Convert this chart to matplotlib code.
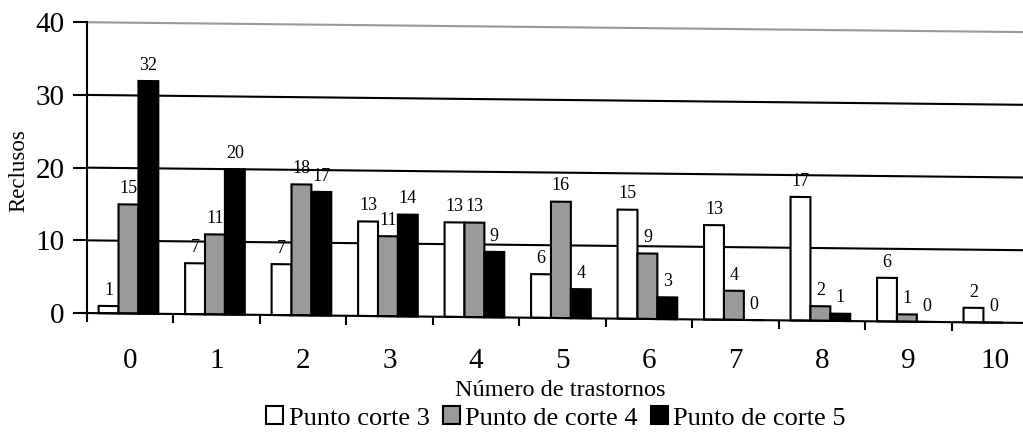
import numpy as np
import matplotlib
matplotlib.use("Agg")
import matplotlib.pyplot as plt
from matplotlib.transforms import Affine2D

plt.rcParams["font.family"] = ["Liberation Serif", "DejaVu Serif"]

# Data
categories = ["0", "1", "2", "3", "4", "5", "6", "7", "8", "9", "10"]
punto_corte_3 = [1, 7, 7, 13, 13, 6, 15, 13, 17, 6, 2]
punto_corte_4 = [15, 11, 18, 11, 13, 16, 9, 4, 2, 1, 0]
punto_corte_5 = [32, 20, 17, 14, 9, 4, 3, 0, 1, 0, None]

series = [
    ("Punto corte 3", punto_corte_3, "white"),
    ("Punto de corte 4", punto_corte_4, "#9a9a9a"),
    ("Punto de corte 5", punto_corte_5, "black"),
]

fig = plt.figure(figsize=(10.23, 4.36), dpi=100)
ax = fig.add_axes([0.085, 0.282, 0.930, 0.667])
ax.set_xlim(-0.5, 10.5)
ax.set_ylim(0, 40)

# the scanned chart is slightly tilted: plot area drops to the right
x0 = ax.transAxes.transform((0, 0))[0]
skew = Affine2D().translate(-x0, 0).skew(0, -np.arctan(10 / 950)).translate(x0, 0)
tr = ax.transData + skew

x = np.arange(len(categories))
w = 0.23
handles = []
for k, (name, vals, col) in enumerate(series):
    xs = [xi + (k - 1) * w - 0.02 for xi, v in zip(x, vals) if v is not None]
    hs = [v for v in vals if v is not None]
    bars = ax.bar(xs, hs, width=w, color=col, edgecolor="black", linewidth=1.5,
                  label=name, zorder=3)
    for b in bars:
        b.set_transform(tr)
        b.set_clip_on(False)
    handles.append(bars)
    for xi, v in zip(xs, hs):
        ax.text(xi, v + 1.0, str(v), ha="center", va="bottom", fontsize=13,
                transform=tr, clip_on=False)

# gridlines (tilted like the scan)
for yv in [10, 20, 30]:
    ax.plot([-0.5, 10.5], [yv, yv], color="black", lw=1.5, transform=tr, zorder=1)
ax.plot([-0.5, 10.5], [40, 40], color="#999999", lw=1.5, transform=tr, zorder=1,
        clip_on=False)
# baseline and category separators
ax.plot([-0.55, 10.5], [0, 0], color="black", lw=1.5, transform=tr, zorder=4,
        clip_on=False)
bounds = np.arange(-0.5, 11, 1.0)
ax.vlines(bounds, -1.2, 0, color="black", lw=1.5, transform=tr, clip_on=False)

for s in ["top", "right", "bottom"]:
    ax.spines[s].set_visible(False)
ax.spines["left"].set_linewidth(1.5)
ax.spines["left"].set_zorder(5)

ax.set_yticks([0, 10, 20, 30, 40])
ax.tick_params(axis="y", direction="out", length=10, width=1.5, labelsize=21, pad=6)
ax.set_xticks(x)
ax.set_xticklabels(categories)
ax.tick_params(axis="x", length=0, labelsize=21, pad=25)

ax.set_ylabel("Reclusos", fontsize=16.5)
ax.yaxis.set_label_coords(-0.061, 0.491)
ax.set_xlabel("Número de trastornos", fontsize=17.5)
ax.xaxis.set_label_coords(0.498, -0.23)

fig.legend(handles=handles, loc="center", bbox_to_anchor=(556 / 1023, 1 - 418 / 436),
           ncol=3, frameon=False, fontsize=19, handlelength=0.65, handleheight=0.65,
           handletextpad=0.2, columnspacing=0.5, borderpad=0.2)

fig.savefig("out.png", dpi=100)
